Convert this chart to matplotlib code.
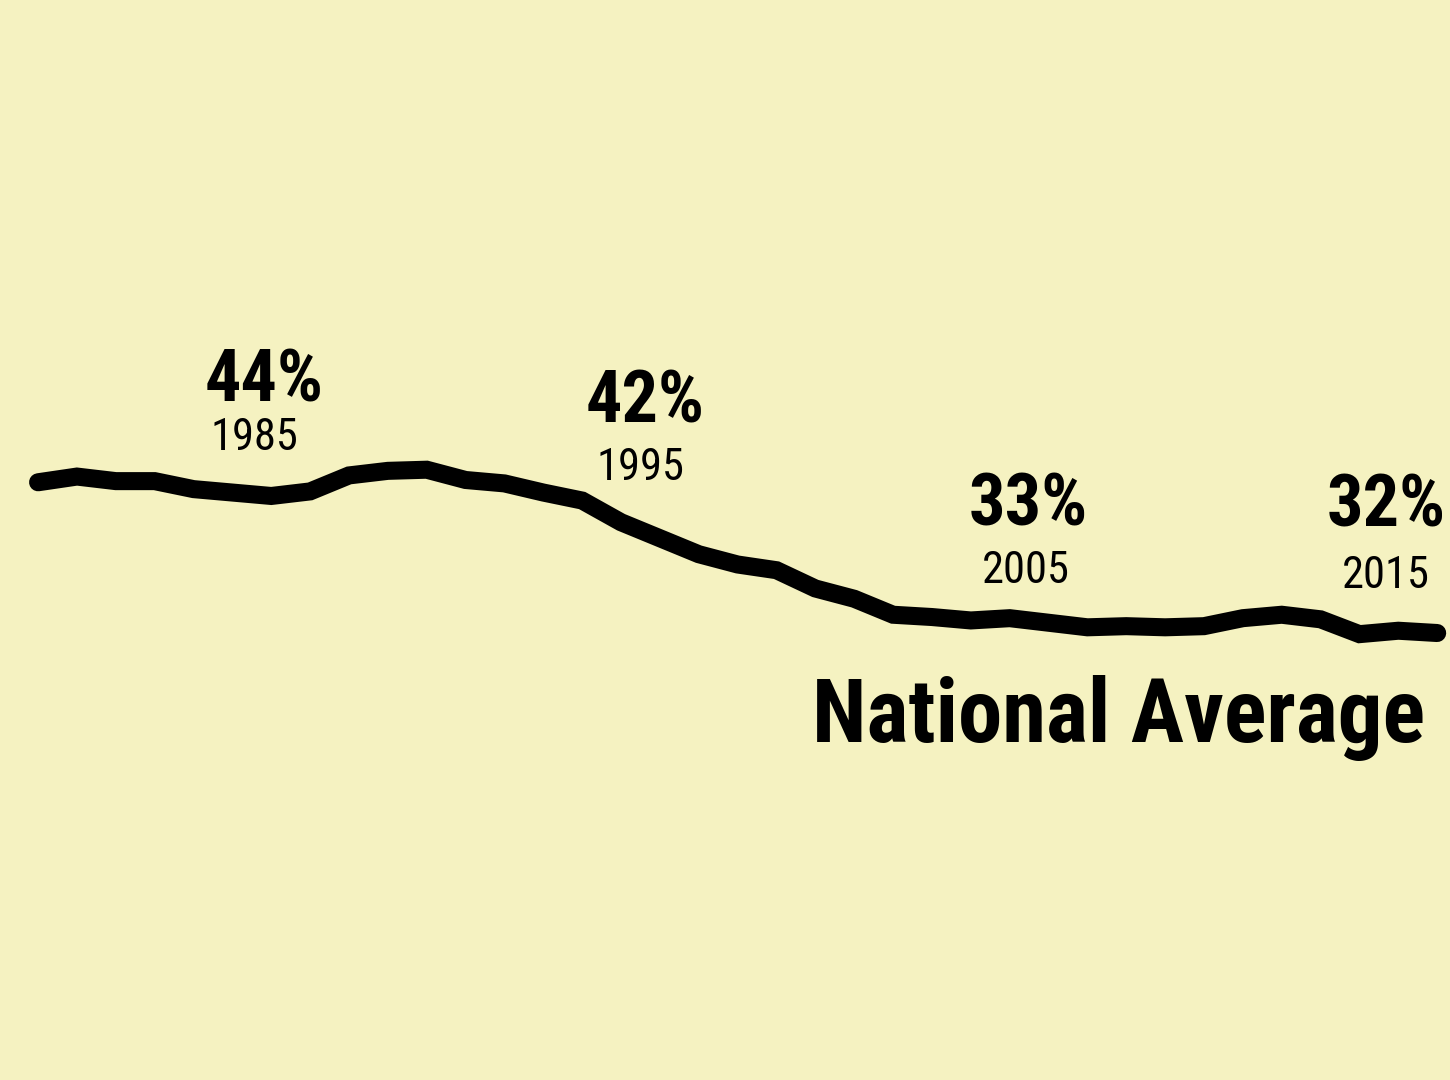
import matplotlib
matplotlib.use('Agg')
import matplotlib.pyplot as plt
from matplotlib import font_manager as fm

# share of ... (national average)
years = list(range(1979, 2016))
values = [45.2, 45.7, 45.3, 45.3, 44.6, 44.3, 44.0, 44.4, 45.8, 46.2,
          46.3, 45.4, 45.1, 44.3, 43.6, 41.7, 40.3, 38.9, 38.0, 37.5,
          35.9, 35.0, 33.6, 33.4, 33.1, 33.3, 32.9, 32.5, 32.6, 32.5,
          32.6, 33.3, 33.6, 33.2, 31.9, 32.2, 32.0]

label_years = [1985, 1995, 2005, 2015]
label_pcts = ['44%', '42%', '33%', '32%']

bg = '#F5F2C1'

# pick a condensed family, like the reference's
installed = {f.name for f in fm.fontManager.ttflist}
cands = ['Roboto Condensed', 'Archivo Narrow', 'PT Sans Narrow',
         'Barlow Condensed', 'Liberation Sans Narrow']
font = [c for c in cands if c in installed][:1] + ['DejaVu Sans']

fig = plt.figure(figsize=(14.5, 10.8), dpi=100, facecolor=bg)
ax = fig.add_axes([0, 0, 1, 1])
ax.set_facecolor(bg)
ax.plot(years, values, color='black', lw=13, solid_capstyle='round',
        solid_joinstyle='miter')
ax.set_xlim(1978.02, 2015.33)
ax.set_ylim(-7.14, 87.43)
ax.axis('off')

# offsets in pixels from each labelled point: (pct dx, pct dy, year dx, year dy)
offsets = [(-7, 94, -17, 46), (-15, 116, -19, 58),
           (-20, 97, -23, 40), (-51, 107, -51, 45)]

for yr, pct, (pdx, pdy, ydx, ydy) in zip(label_years, label_pcts, offsets):
    v = values[years.index(yr)]
    ax.annotate(pct, (yr, v), xytext=(pdx, pdy), textcoords='offset pixels',
                ha='center', va='baseline', fontsize=52, fontweight='bold',
                family=font)
    ax.annotate(str(yr), (yr, v), xytext=(ydx, ydy), textcoords='offset pixels',
                ha='center', va='baseline', fontsize=32, family=font)

fig.text(1425 / 1450, 1 - 742 / 1080, 'National Average', ha='right',
         va='baseline', fontsize=64, fontweight='bold', family=font)

fig.savefig('out.png', dpi=100, facecolor=bg)
